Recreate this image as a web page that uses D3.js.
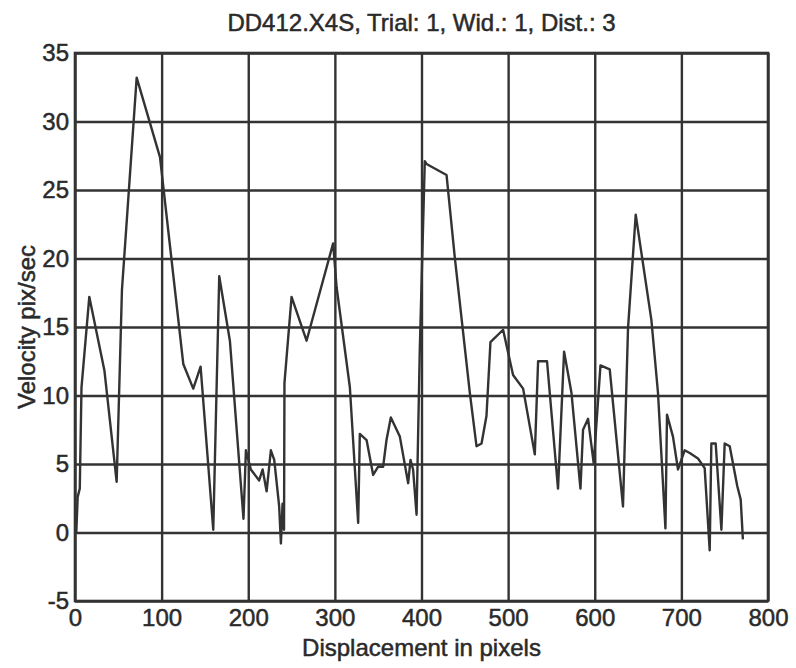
<!DOCTYPE html>
<html>
<head>
<meta charset="utf-8">
<script src="https://cdn.jsdelivr.net/npm/d3@7"></script>
<style>
  html, body { margin: 0; padding: 0; background: #fff; }
  svg { display: block; }
  text { font-family: "Liberation Sans", Arial, sans-serif; fill: #2a2a2a; stroke: #2a2a2a; stroke-width: 0.5px; }
</style>
</head>
<body>
<svg id="chart" width="796" height="668"></svg>
<script>
const titleText = "DD412.X4S, Trial: 1, Wid.: 1, Dist.: 3";
const xLabel = "Displacement in pixels";
const yLabel = "Velocity pix/sec";
const xTicks = [0, 100, 200, 300, 400, 500, 600, 700, 800];
const yTicks = [-5, 0, 5, 10, 15, 20, 25, 30, 35];

const displacement = [
  1.5, 3.1, 5.5, 7.5, 16.5, 34, 48.1, 54.2, 71.2, 98.1,
  125, 136.5, 145, 159.6, 166.5, 178.8, 194.5, 197.3, 203, 212.6,
  216.6, 221.2, 226.1, 230, 235.7, 237.7, 239.6, 241.3, 241.8, 250,
  267.3, 298, 302, 317.3, 326.9, 328.8, 336.6, 344.2, 350, 355.7,
  359.6, 364.6, 375, 384.6, 387.3, 390.3, 394.3, 398, 403.8, 405.8,
  428.9, 438.4, 455.8, 463.5, 469.3, 475, 479.6, 494.2, 505.7, 517.3,
  530.8, 534.6, 544.9, 557.6, 564.6, 573.1, 583.5, 586.5, 592.3, 598.8,
  606.6, 617.3, 632.6, 638.4, 647.3, 665.4, 673, 681.6, 683.4, 690.3,
  696.1, 703.8, 709.6, 719.2, 726.9, 732.7, 734.6, 739.6, 746.2, 750,
  755.8, 764.5, 768.5, 771
];
const velocity = [
  0, 2.6, 3.2, 10.6, 17.2, 11.8, 3.7, 17.7, 33.2, 27.4,
  12.3, 10.5, 12.1, 0.2, 18.7, 14.0, 1.0, 6.0, 4.6, 3.8,
  4.6, 3.0, 6.0, 5.3, 1.9, -0.8, 2.1, 0.2, 10.9, 17.2,
  14.0, 21.1, 17.9, 10.6, 0.7, 7.2, 6.75, 4.2, 4.8, 4.8,
  6.75, 8.4, 7.0, 3.6, 5.3, 4.6, 1.3, 13.3, 27.1, 26.9,
  26.1, 20.1, 10.2, 6.3, 6.5, 8.5, 13.9, 14.8, 11.5, 10.5,
  5.7, 12.5, 12.5, 3.2, 13.2, 10.2, 3.2, 7.5, 8.3, 5.05,
  12.2, 11.9, 1.9, 14.9, 23.2, 15.5, 10.2, 0.3, 8.6, 7.0,
  4.6, 6.0, 5.8, 5.4, 4.7, -1.3, 6.5, 6.5, 0.2, 6.5,
  6.3, 3.4, 2.4, -0.5
];

const W = 796, H = 668;
const m = { left: 75, right: 28, top: 53, bottom: 67 };
const svg = d3.select("#chart");

const x = d3.scaleLinear().domain([0, 800]).range([m.left, W - m.right]);
const y = d3.scaleLinear().domain([-5, 35]).range([H - m.bottom, m.top]);

const gridColor = "#333";
const fmt = d => String(d);

// vertical grid + x tick labels
svg.append("g")
  .attr("transform", `translate(0,${H - m.bottom})`)
  .call(d3.axisBottom(x).tickValues(xTicks).tickSize(-(H - m.top - m.bottom)).tickPadding(8).tickFormat(fmt))
  .call(g => g.select(".domain").remove())
  .call(g => g.selectAll("line").attr("stroke", gridColor).attr("stroke-width", 2.4))
  .call(g => g.selectAll("text").attr("font-size", 24).attr("fill", "#2a2a2a"));

// horizontal grid + y tick labels
svg.append("g")
  .attr("transform", `translate(${m.left},0)`)
  .call(d3.axisLeft(y).tickValues(yTicks).tickSize(-(W - m.left - m.right)).tickPadding(6).tickFormat(fmt))
  .call(g => g.select(".domain").remove())
  .call(g => g.selectAll("line").attr("stroke", gridColor).attr("stroke-width", 2.4))
  .call(g => g.selectAll("text").attr("font-size", 24).attr("fill", "#2a2a2a"));

// frame
svg.append("rect")
  .attr("x", m.left).attr("y", m.top)
  .attr("width", W - m.left - m.right).attr("height", H - m.top - m.bottom)
  .attr("fill", "none").attr("stroke", gridColor).attr("stroke-width", 2.6);

// data line
const pts = displacement.map((d, i) => [d, velocity[i]]);
svg.append("path")
  .datum(pts)
  .attr("fill", "none")
  .attr("stroke", "#333")
  .attr("stroke-width", 2.4)
  .attr("stroke-linejoin", "round")
  .attr("d", d3.line().x(d => x(d[0])).y(d => y(d[1])));

// title
svg.append("text")
  .attr("x", (m.left + W - m.right) / 2).attr("y", 31)
  .attr("text-anchor", "middle").attr("font-size", 24)
  .text(titleText);

// x label
svg.append("text")
  .attr("x", (m.left + W - m.right) / 2).attr("y", 656)
  .attr("text-anchor", "middle").attr("font-size", 24)
  .text(xLabel);

// y label
svg.append("text")
  .attr("transform", `translate(35,${(m.top + H - m.bottom) / 2}) rotate(-90)`)
  .attr("text-anchor", "middle").attr("font-size", 24)
  .text(yLabel);
</script>
</body>
</html>
